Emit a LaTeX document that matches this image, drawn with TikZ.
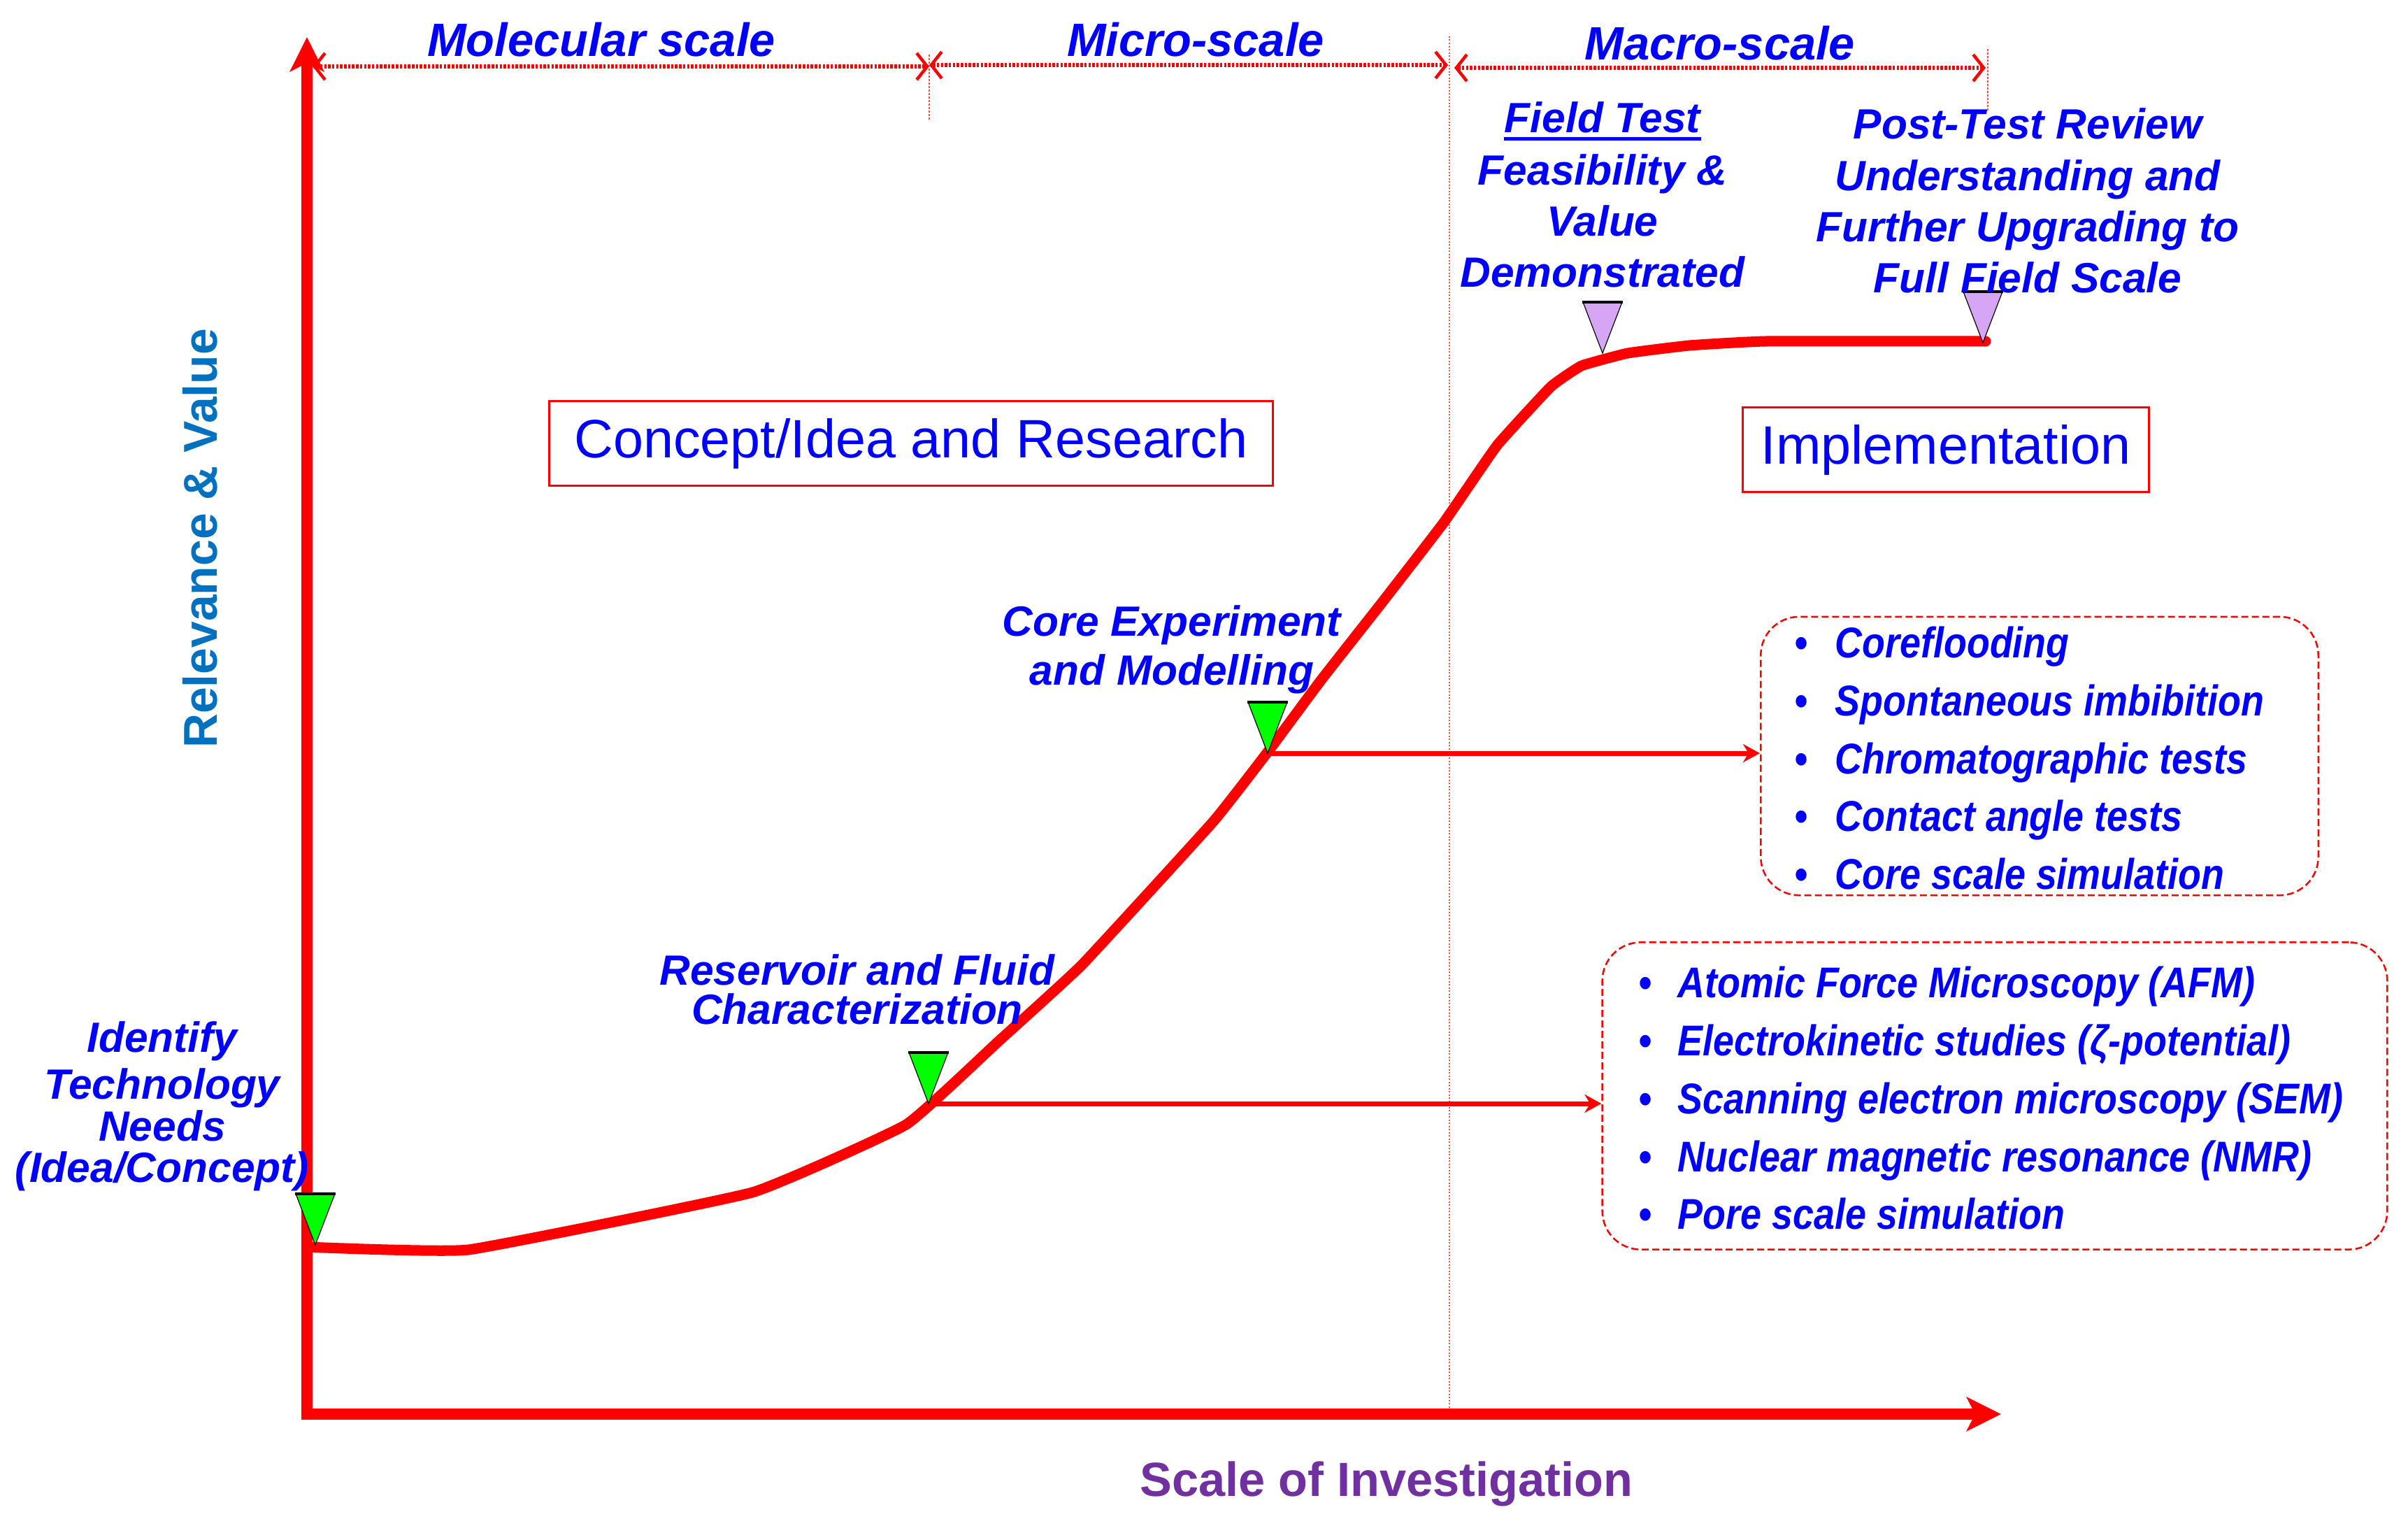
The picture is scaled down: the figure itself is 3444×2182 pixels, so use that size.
\documentclass[tikz,border=0pt]{standalone}
\usepackage{fontspec}
\setmainfont{Liberation Sans}
\newfontfamily\listfont{Liberation Sans}[FakeStretch=0.875]
\usetikzlibrary{arrows.meta}
\definecolor{rvblue}{RGB}{0,112,192}
\definecolor{purp}{RGB}{112,48,160}
\definecolor{lav}{RGB}{215,165,245}
\definecolor{mgreen}{RGB}{0,255,0}
\newcommand{\lblf}[1]{\fontsize{17.2}{#1}\selectfont\bfseries\itshape}
\tikzset{
  pics/tmark/.style={code={
    \fill[#1] (-28,-73) -- (28,-73) -- (0,0) -- cycle;
    \draw[black, line width=0.012cm, line join=miter] (-28,-73) -- (0,0) -- (28,-73);
    \draw[black, line width=0.045cm] (-29,-73) -- (29,-73);
  }},
  lbl/.style={text=blue, align=center, inner sep=0},
  scl/.style={text=blue, font=\fontsize{19}{22}\selectfont\bfseries\itshape, inner sep=0},
  bigbox/.style={draw=red, line width=0.03cm, text=blue, font=\fontsize{22}{26}\selectfont, inner sep=0, minimum height=1.2cm},
  listbox/.style={draw=red, dash pattern=on 0.1cm off 0.05cm, line width=0.025cm, rounded corners=0.55cm, inner sep=0},
  listtxt/.style={text=blue, font=\listfont\fontsize{17.5}{23.6}\selectfont\bfseries\itshape, align=left, inner sep=0, anchor=west},
  curveln/.style={red, line width=0.15cm, line cap=round, line join=round},
  axisln/.style={red, line width=0.16cm, line join=miter},
  dimln/.style={red, line width=0.06cm, dash pattern=on 0.035cm off 0.022cm,
    {Straight Barb[length=0.15cm,width=0.38cm,line width=0.045cm]}-{Straight Barb[length=0.15cm,width=0.38cm,line width=0.045cm]}},
  vthin/.style={red!70, line width=0.02cm, dash pattern=on 0.03cm off 0.02cm},
  harrow/.style={red, line width=0.07cm, -{Stealth[length=0.24cm,width=0.26cm]}}
}
\begin{document}
\begin{tikzpicture}[x=0.01cm,y=-0.01cm]
\useasboundingbox (0,0) rectangle (3444,2182);

% axes
\coordinate (Ytop) at (439,53);
\coordinate (O) at (439,2022);
\coordinate (Xend) at (2862,2022);

% long dotted vertical separator
\coordinate (vA) at (2073,52);
\coordinate (vB) at (2073,2014);
\draw[vthin, dash pattern=on 0.02cm off 0.025cm] (vA) -- (vB);

\draw[axisln, {Stealth[length=0.49cm,width=0.48cm,inset=0.12cm]}-{Stealth[length=0.49cm,width=0.48cm,inset=0.12cm]}] (Ytop) -- (O) -- (Xend);

% scale dimension lines
\coordinate (d1a) at (447,95);
\coordinate (d1b) at (1329,95);
\coordinate (d2a) at (1329,93);
\coordinate (d2b) at (2071,93);
\coordinate (d3a) at (2080,97);
\coordinate (d3b) at (2840,97);
\draw[dimln] (d1a) -- (d1b);
\draw[dimln] (d2a) -- (d2b);
\draw[dimln] (d3a) -- (d3b);
\coordinate (s1a) at (1329,78);
\coordinate (s1b) at (1329,172);
\coordinate (s2a) at (2843,70);
\coordinate (s2b) at (2843,160);
\draw[vthin] (s1a) -- (s1b);
\draw[vthin] (s2a) -- (s2b);

\node[scl] (ms) at (860,57) {Molecular scale};
\node[scl] (mi) at (1710,57) {Micro-scale};
\node[scl] (ma) at (2460,62) {Macro-scale};

% axis titles
\node[rotate=90, text=rvblue, font=\fontsize{19.3}{22}\selectfont\bfseries, inner sep=0] (rv) at (286,770) {Relevance \& Value};
\node[text=purp, font=\fontsize{19.5}{22}\selectfont\bfseries, inner sep=0] (si) at (1983,2122) {Scale of Investigation};

% boxes
\node[bigbox, minimum width=10.35cm] (cb) at (1303,634) {Concept/Idea and Research};
\node[bigbox, minimum width=5.81cm] (ib) at (2783,643) {Implementation};

\node[listbox, minimum width=7.97cm, minimum height=3.98cm] (LA) at (2917,1081) {};
\node[listbox, minimum width=11.22cm, minimum height=4.39cm] (LB) at (2853,1567) {};

\node[listtxt] (la) at (2566,1084) {%
\makebox[0.58cm][l]{\textbullet}Coreflooding\\
\makebox[0.58cm][l]{\textbullet}Spontaneous imbibition\\
\makebox[0.58cm][l]{\textbullet}Chromatographic tests\\
\makebox[0.58cm][l]{\textbullet}Contact angle tests\\
\makebox[0.58cm][l]{\textbullet}Core scale simulation};
\node[listtxt] (lb) at (2343,1570) {%
\makebox[0.56cm][l]{\textbullet}Atomic Force Microscopy (AFM)\\
\makebox[0.56cm][l]{\textbullet}Electrokinetic studies (ζ-potential)\\
\makebox[0.56cm][l]{\textbullet}Scanning electron microscopy (SEM)\\
\makebox[0.56cm][l]{\textbullet}Nuclear magnetic resonance (NMR)\\
\makebox[0.56cm][l]{\textbullet}Pore scale simulation};

% curve
\draw[curveln] plot[smooth, tension=0.2] coordinates {(439,1783) (670,1787) (1076,1705) (1296,1608) (1428,1489) (1548,1379) (1735,1175) (1814,1074) (1889,973) (1977,861) (2065,747) (2141,637) (2218,553) (2262,523) (2328,505) (2416,494) (2526,488) (2840,488)};

\coordinate (pI) at (451,1780);
\coordinate (pR) at (1328,1578);
\coordinate (pC) at (1813,1077);
\coordinate (pF) at (2292,505);
\coordinate (pP) at (2836,490);

% arrows to lists
\draw[harrow] (pC) -- (pC -| LA.west);
\draw[harrow] (pR) -- (pR -| LB.west);

% markers
\pic at (pI) {tmark=mgreen};
\pic at (pR) {tmark=mgreen};
\pic at (pC) {tmark=mgreen};
\pic at (pF) {tmark=lav};
\pic at (pP) {tmark=lav};

% labels
\node[lbl, font=\lblf{17pt}] (id) at (232,1582) {Identify\\[2pt]Technology\\Needs\\(Idea/Concept)};
\node[lbl, font=\lblf{16pt}] (rf) at (1226,1415) {Reservoir and Fluid\\Characterization};
\node[lbl, font=\lblf{19.9pt}] (ce) at (1676,929) {Core Experiment\\and Modelling};
\node[lbl, font=\lblf{20.8pt}] (ft) at (2292,168) {Field Test};
\draw[blue, line width=0.05cm] ([yshift=-0.09cm]ft.base west) -- ([yshift=-0.09cm]ft.base east);
\node[lbl, font=\lblf{20.8pt}] (fv) at (2292,316) {Feasibility \&\\Value\\Demonstrated};
\node[lbl, font=\lblf{20.8pt}] (pt) at (2900,287) {Post-Test Review\\Understanding and\\Further Upgrading to\\Full Field Scale};
\end{tikzpicture}
\end{document}
